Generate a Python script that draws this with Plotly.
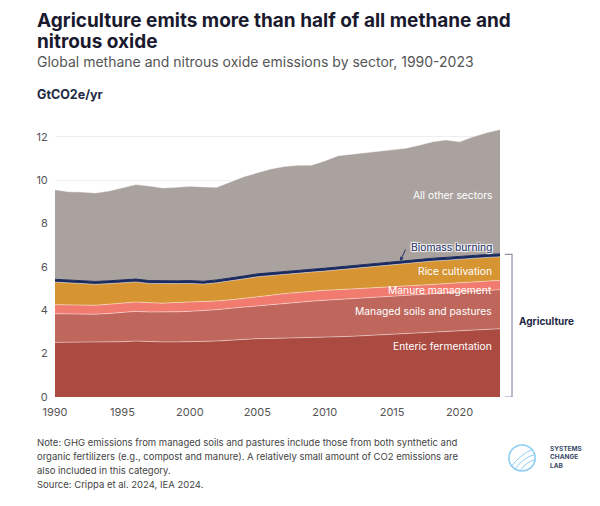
"""
Agriculture share of global methane and nitrous oxide emissions, 1990-2023.
Stacked area chart built with Plotly.
"""

import plotly.graph_objects as go

# ---- data (GtCO2e/yr) ----
years = list(range(1990, 2024))

enteric = [2.52, 2.52, 2.52, 2.52, 2.53, 2.55, 2.58, 2.55, 2.54, 2.54,
           2.55, 2.56, 2.58, 2.62, 2.66, 2.69, 2.70, 2.71, 2.73, 2.74,
           2.75, 2.78, 2.80, 2.83, 2.86, 2.89, 2.93, 2.96, 3.00, 3.04,
           3.07, 3.10, 3.13, 3.15]

managed_soils = [1.32, 1.31, 1.30, 1.30, 1.32, 1.35, 1.37, 1.37, 1.37, 1.39,
                 1.40, 1.42, 1.45, 1.47, 1.49, 1.52, 1.57, 1.62, 1.65, 1.68,
                 1.71, 1.72, 1.74, 1.74, 1.75, 1.75, 1.75, 1.76, 1.76, 1.76,
                 1.77, 1.78, 1.79, 1.80]

manure = [0.42, 0.42, 0.42, 0.41, 0.43, 0.43, 0.43, 0.43, 0.42, 0.43,
          0.43, 0.42, 0.40, 0.39, 0.39, 0.40, 0.42, 0.44, 0.45, 0.46,
          0.46, 0.45, 0.44, 0.44, 0.43, 0.43, 0.43, 0.43, 0.43, 0.43,
          0.43, 0.43, 0.43, 0.43]

rice = [1.04, 1.02, 0.99, 0.97, 0.95, 0.94, 0.93, 0.89, 0.89, 0.87,
        0.86, 0.81, 0.84, 0.87, 0.91, 0.94, 0.92, 0.90, 0.89, 0.88,
        0.89, 0.92, 0.95, 0.99, 1.02, 1.05, 1.06, 1.07, 1.08, 1.08,
        1.09, 1.09, 1.09, 1.09]

biomass = [0.13, 0.13, 0.13, 0.13, 0.13, 0.13, 0.13, 0.13, 0.13, 0.13,
           0.13, 0.13, 0.13, 0.13, 0.13, 0.13, 0.13, 0.13, 0.13, 0.13,
           0.13, 0.13, 0.13, 0.13, 0.13, 0.13, 0.13, 0.13, 0.13, 0.13,
           0.13, 0.13, 0.13, 0.13]

other = [4.13, 4.07, 4.09, 4.08, 4.14, 4.24, 4.36, 4.36, 4.29, 4.31,
         4.35, 4.35, 4.27, 4.44, 4.58, 4.66, 4.78, 4.83, 4.84, 4.80,
         4.95, 5.13, 5.14, 5.12, 5.14, 5.13, 5.17, 5.26, 5.37, 5.42,
         5.28, 5.47, 5.62, 5.74]

# label text, colour and y position (data units) for each layer, bottom to top
layers = [
    ("Enteric fermentation", enteric, "#ab4a41", 2.37),
    ("Managed soils and pastures", managed_soils, "#c0675d", 3.95),
    ("Manure management", manure, "#f27b70", 4.95),
    ("Rice cultivation", rice, "#d69532", 5.80),
    ("Biomass burning", biomass, "#1b2a5e", None),
    ("All other sectors", other, "#aaa29e", 9.30),
]

x_ticks = [1990, 1995, 2000, 2005, 2010, 2015, 2020]
y_ticks = [0, 2, 4, 6, 8, 10, 12]

FONT = "Inter"
NAVY = "#1f2a44"
LEFT = -0.045  # left edge of the text blocks, in paper units

fig = go.Figure()

for name, values, color, _ in layers:
    is_biomass = name == "Biomass burning"
    fig.add_trace(go.Scatter(
        x=years,
        y=values,
        name=name,
        mode="lines",
        stackgroup="all",
        fillcolor=color,
        line=dict(color=color if is_biomass else "rgba(255,255,255,0.55)",
                  width=1 if is_biomass else 0.8),
        hoverinfo="skip",
    ))

# in-chart labels (white text, right aligned against 2023)
for name, _, _, label_y in layers:
    if label_y is None:
        continue
    fig.add_annotation(
        x=2023, y=label_y, xref="x", yref="y",
        text=name, showarrow=False,
        xanchor="right", xshift=-6,
        font=dict(family=FONT, size=10.3, color="white"),
    )

# biomass burning label: navy text with a white halo + small arrow
fig.add_annotation(
    x=2023, y=6.92, xref="x", yref="y",
    text="Biomass burning", showarrow=False,
    xanchor="right", xshift=-6,
    font=dict(family=FONT, size=10.3, color="#25336b",
              shadow="1px 1px 1px white, -1px -1px 1px white, 1px -1px 1px white, -1px 1px 1px white"),
)
fig.add_annotation(
    x=2015.6, y=6.27, xref="x", yref="y",
    text="", showarrow=True, ax=6, ay=-13,
    arrowhead=2, arrowsize=0.8, arrowwidth=1, arrowcolor="#25336b",
)

# "Agriculture" bracket on the right
fig.add_shape(type="path", xref="paper", yref="y",
              path="M 1.011,6.58 L 1.027,6.58 L 1.027,0 L 1.011,0",
              line=dict(color="#8a90a8", width=1.2))
fig.add_annotation(
    x=1.038, y=3.5, xref="paper", yref="y",
    text="<b>Agriculture</b>", showarrow=False, xanchor="left",
    font=dict(family=FONT, size=10, color=NAVY),
)

# title block
for text, y in [("<b>Agriculture emits more than half of all methane and</b>", 1.3911),
                ("<b>nitrous oxide</b>", 1.3100)]:
    fig.add_annotation(
        x=LEFT, y=y, xref="paper", yref="paper",
        text=text, showarrow=False, xanchor="left", yanchor="middle",
        font=dict(family=FONT, size=19, color="#1a1a2e"),
    )
fig.add_annotation(
    x=LEFT, y=1.2362, xref="paper", yref="paper",
    text="Global methane and nitrous oxide emissions by sector, 1990-2023",
    showarrow=False, xanchor="left", yanchor="middle",
    font=dict(family=FONT, size=14, color="#555555"),
)
fig.add_annotation(
    x=LEFT, y=1.1144, xref="paper", yref="paper",
    text="<b>GtCO2e/yr</b>", showarrow=False, xanchor="left", yanchor="middle",
    font=dict(family=FONT, size=12.5, color=NAVY),
)

# footnote
note_lines = [
    "Note: GHG emissions from managed soils and pastures include those from both synthetic and",
    "organic fertilizers (e.g., compost and manure). A relatively small amount of CO2 emissions are",
    "also included in this category.",
    "Source: Crippa et al. 2024, IEA 2024.",
]
for i, line in enumerate(note_lines):
    fig.add_annotation(
        x=LEFT, y=-0.1697 - i * 0.0505, xref="paper", yref="paper",
        text=line, showarrow=False, xanchor="left", yanchor="middle",
        font=dict(family=FONT, size=9.5, color="#444444"),
    )

# Systems Change Lab logo (simple circle mark + wordmark)
fig.add_shape(type="circle", xref="paper", yref="paper",
              x0=1.020, x1=1.079, y0=-0.273, y1=-0.177,
              line=dict(color="#8fcdf2", width=1.6))
fig.add_shape(type="path", xref="paper", yref="paper",
              path="M 1.025,-0.258 Q 1.045,-0.212 1.073,-0.193",
              line=dict(color="#8fcdf2", width=1))
fig.add_shape(type="path", xref="paper", yref="paper",
              path="M 1.033,-0.268 Q 1.052,-0.223 1.078,-0.212",
              line=dict(color="#8fcdf2", width=1))
fig.add_shape(type="path", xref="paper", yref="paper",
              path="M 1.045,-0.272 Q 1.058,-0.240 1.078,-0.232",
              line=dict(color="#8fcdf2", width=1))
fig.add_annotation(
    x=1.108, y=-0.225, xref="paper", yref="paper",
    text="<b>SYSTEMS<br>CHANGE<br>LAB</b>", showarrow=False,
    xanchor="left", yanchor="middle", align="left",
    font=dict(family=FONT, size=6.5, color="#3a4a66"),
)

fig.update_layout(
    width=600, height=506,
    margin=dict(l=47, r=108, t=118, b=117),
    paper_bgcolor="white", plot_bgcolor="white",
    showlegend=False,
    font=dict(family=FONT, color="#555555"),
    xaxis=dict(
        range=[1990, 2023], tickvals=x_ticks,
        showgrid=False, zeroline=False, showline=False,
        ticks="outside", ticklen=5, tickcolor="rgba(0,0,0,0)",
        tickfont=dict(size=11, color="#555555"),
    ),
    yaxis=dict(
        range=[0, 12.5], tickvals=y_ticks,
        showgrid=True, gridcolor="#eeeeee", gridwidth=1,
        zeroline=False, showline=False,
        ticks="outside", ticklen=4, tickcolor="rgba(0,0,0,0)",
        tickfont=dict(size=11, color="#555555"),
    ),
)

fig.write_html("out.html")
